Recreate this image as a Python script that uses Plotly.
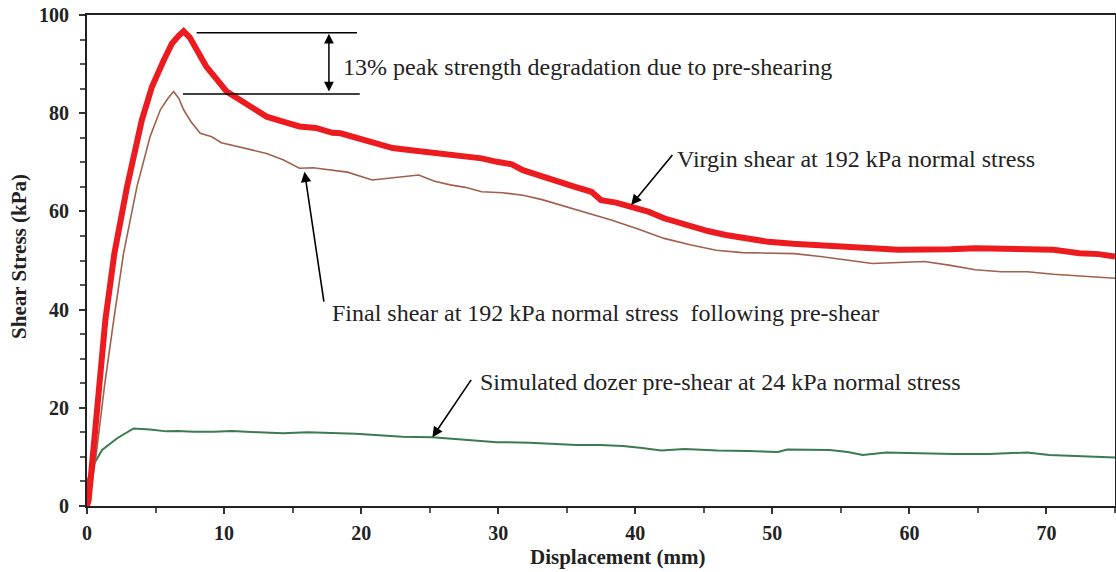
import plotly.graph_objects as go

# displacement (mm) / shear stress (kPa)
virgin_x = [0, 0.12, 0.44, 0.85, 1.34, 2.0, 2.92, 4.0, 4.74, 5.6, 6.2, 6.7, 7.05, 7.5, 7.9,
            8.7, 9.5, 10.2, 11.0, 11.9, 13.1, 14.3, 15.5, 16.7, 17.9, 18.5, 19.1, 20.3, 21.1,
            22.3, 23.5, 24.6, 26.1, 27.5, 28.8, 29.9, 31.0, 31.8, 33.0, 34.5, 35.6, 36.8, 37.5,
            38.6, 39.8, 41.0, 42.1, 43.0, 44.0, 45.3, 46.6, 48.0, 49.7, 51.5, 53.5, 55.4, 57.3,
            59.2, 61.1, 63.0, 64.8, 66.7, 68.6, 70.5, 72.4, 73.8, 75]
virgin_y = [0, 1.2, 10.7, 24.3, 37.9, 51.5, 65.0, 78.6, 85.4, 90.8, 94.2, 95.8, 96.7, 95.4, 93.5,
            89.5, 86.8, 84.4, 83.0, 81.3, 79.3, 78.3, 77.3, 77.0, 76.0, 75.9, 75.4, 74.6, 73.9,
            72.9, 72.5, 72.1, 71.8, 71.2, 70.8, 70.1, 69.6, 68.4, 67.3, 65.7, 65.0, 64.0, 62.3,
            61.8, 61.0, 59.9, 58.6, 57.8, 56.9, 56.0, 55.2, 54.5, 53.8, 53.4, 53.0, 52.8, 52.5,
            52.2, 52.1, 52.3, 52.5, 52.4, 52.5, 52.2, 51.5, 51.3, 50.8]

final_x = [0, 0.2, 0.68, 1.27, 1.95, 2.67, 3.64, 4.6, 5.35, 5.9, 6.32, 6.7, 7.05, 7.6, 8.26,
           9.1, 9.8, 10.6, 11.8, 13.1, 14.3, 15.5, 16.5, 17.8, 19.0, 20.8, 22.5, 24.2, 25.3,
           26.5, 27.6, 28.8, 30.3, 31.8, 33.2, 34.5, 36.4, 38.3, 40.2, 42.1, 44.0, 45.9, 47.8,
           49.7, 51.6, 53.5, 55.4, 57.3, 59.2, 61.1, 63.0, 64.8, 66.7, 68.6, 70.5, 72.8, 75]
final_y = [0, 1.2, 10.7, 24.3, 37.9, 51.5, 65.0, 75.2, 80.7, 83.0, 84.4, 83.0, 80.7, 78.2, 75.9,
           75.2, 74.0, 73.5, 72.6, 71.8, 70.5, 68.8, 68.9, 68.4, 68.0, 66.4, 66.9, 67.4, 66.2,
           65.4, 64.9, 64.0, 63.8, 63.3, 62.4, 61.3, 59.8, 58.2, 56.4, 54.5, 53.2, 52.1, 51.6,
           51.5, 51.4, 50.8, 50.1, 49.4, 49.6, 49.8, 49.0, 48.1, 47.7, 47.7, 47.2, 46.8, 46.4]

dozer_x = [0, 0.05, 0.5, 1.1, 2.2, 3.4, 4.6, 5.8, 6.6, 7.8, 9.2, 10.6, 12.5, 14.3, 16.1, 17.9,
           19.6, 21.3, 23.0, 25.2, 27.3, 29.9, 32.3, 34.0, 35.7, 37.4, 39.1, 40.5, 41.9, 43.6,
           46.0, 48.2, 50.4, 51.1, 52.7, 54.2, 55.5, 56.6, 58.3, 60.7, 63.2, 65.8, 67.2, 68.6,
           70.2, 72.6, 75]
dozer_y = [0, 5.3, 8.5, 11.4, 13.8, 15.8, 15.6, 15.2, 15.3, 15.1, 15.1, 15.3, 15.0, 14.8, 15.0,
           14.9, 14.7, 14.4, 14.1, 14.0, 13.5, 13.0, 12.9, 12.7, 12.4, 12.4, 12.2, 11.8, 11.3,
           11.6, 11.3, 11.2, 11.0, 11.5, 11.4, 11.4, 11.0, 10.4, 10.9, 10.7, 10.6, 10.6, 10.8,
           10.9, 10.4, 10.2, 9.9]

SERIF = "Liberation Serif, Times New Roman, serif"
INK = "#222222"

fig = go.Figure()
fig.add_trace(go.Scatter(x=dozer_x, y=dozer_y, mode="lines",
                         line=dict(color="#3c7a50", width=2)))
fig.add_trace(go.Scatter(x=final_x, y=final_y, mode="lines",
                         line=dict(color="#a0614c", width=1.6)))
fig.add_trace(go.Scatter(x=virgin_x, y=virgin_y, mode="lines",
                         line=dict(color="#ec1b1f", width=6)))

# peak level marker lines
fig.add_shape(type="line", x0=8.0, x1=19.7, y0=96.4, y1=96.4, line=dict(color="black", width=1.5))
fig.add_shape(type="line", x0=7.0, x1=19.9, y0=83.9, y1=83.9, line=dict(color="black", width=1.5))

# double arrow between the two peaks
fig.add_annotation(x=17.65, y=96.2, ax=17.65, ay=84.1, xref="x", yref="y", axref="x", ayref="y",
                   text="", showarrow=True, arrowhead=2, startarrowhead=2, arrowside="end+start",
                   arrowsize=1.3, arrowwidth=1.5, arrowcolor="black", standoff=0, startstandoff=0)

labels = [
    ("13% peak strength degradation due to pre-shearing", 18.55, 89.5),
    ("Virgin shear at 192 kPa normal stress", 42.9, 70.7),
    ("Final shear at 192 kPa normal stress  following pre-shear", 17.7, 39.3),
    ("Simulated dozer pre-shear at 24 kPa normal stress", 28.5, 25.3),
]
for txt, lx, ly in labels:
    fig.add_annotation(x=lx, y=ly, xref="x", yref="y", text=txt, showarrow=False,
                       xanchor="left", yanchor="middle",
                       font=dict(family=SERIF, size=24, color=INK))

# pointer arrows (tail -> head)
pointers = [
    (42.8, 71.8, 39.7, 61.3),
    (17.3, 41.3, 15.87, 68.1),
    (28.1, 26.0, 25.2, 14.0),
]
for tx, ty, hx, hy in pointers:
    fig.add_annotation(x=hx, y=hy, ax=tx, ay=ty, xref="x", yref="y", axref="x", ayref="y",
                       text="", showarrow=True, arrowhead=2, arrowsize=1.3, arrowwidth=1.6,
                       arrowcolor="black", standoff=0)

# axis titles
fig.add_annotation(x=0.5165, y=-0.103, xref="paper", yref="paper", text="<b>Displacement (mm)</b>",
                   showarrow=False, xanchor="center", yanchor="middle",
                   font=dict(family=SERIF, size=21, color=INK))
fig.add_annotation(x=-0.0668, y=0.508, xref="paper", yref="paper", text="<b>Shear Stress (kPa)</b>",
                   showarrow=False, textangle=-90, xanchor="center", yanchor="middle",
                   font=dict(family=SERIF, size=21, color=INK))

fig.update_xaxes(range=[0, 75], dtick=10, tick0=0, ticks="outside", ticklen=6, tickwidth=1.5,
                 tickcolor="#333", showline=True, linecolor="#222", linewidth=2, mirror=True,
                 showgrid=False, zeroline=False, ticklabelstandoff=2, automargin=False,
                 ticklabeloverflow="allow",
                 minor=dict(dtick=5, tick0=0, ticks="outside", ticklen=5, tickcolor="#555"),
                 tickfont=dict(family=SERIF, size=20, color=INK, weight="bold"))
fig.update_yaxes(range=[0, 100], dtick=20, tick0=0, ticks="outside", ticklen=6, tickwidth=1.5,
                 tickcolor="#333", showline=True, linecolor="#222", linewidth=2, mirror=True,
                 showgrid=False, zeroline=False, ticklabelstandoff=6, automargin=False,
                 ticklabeloverflow="allow",
                 minor=dict(dtick=5, tick0=0, ticks="outside", ticklen=5, tickcolor="#555"),
                 tickfont=dict(family=SERIF, size=20, color=INK, weight="bold"))

fig.update_layout(
    width=1116, height=572,
    margin=dict(l=87, r=1, t=15, b=66, autoexpand=False),
    plot_bgcolor="white", paper_bgcolor="white",
    showlegend=False,
)

# drop the browser's default 8px body margin so the figure fills the window exactly
fig.write_html("out.html", config={"displayModeBar": False},
               post_script="document.body.style.margin = '0';")
